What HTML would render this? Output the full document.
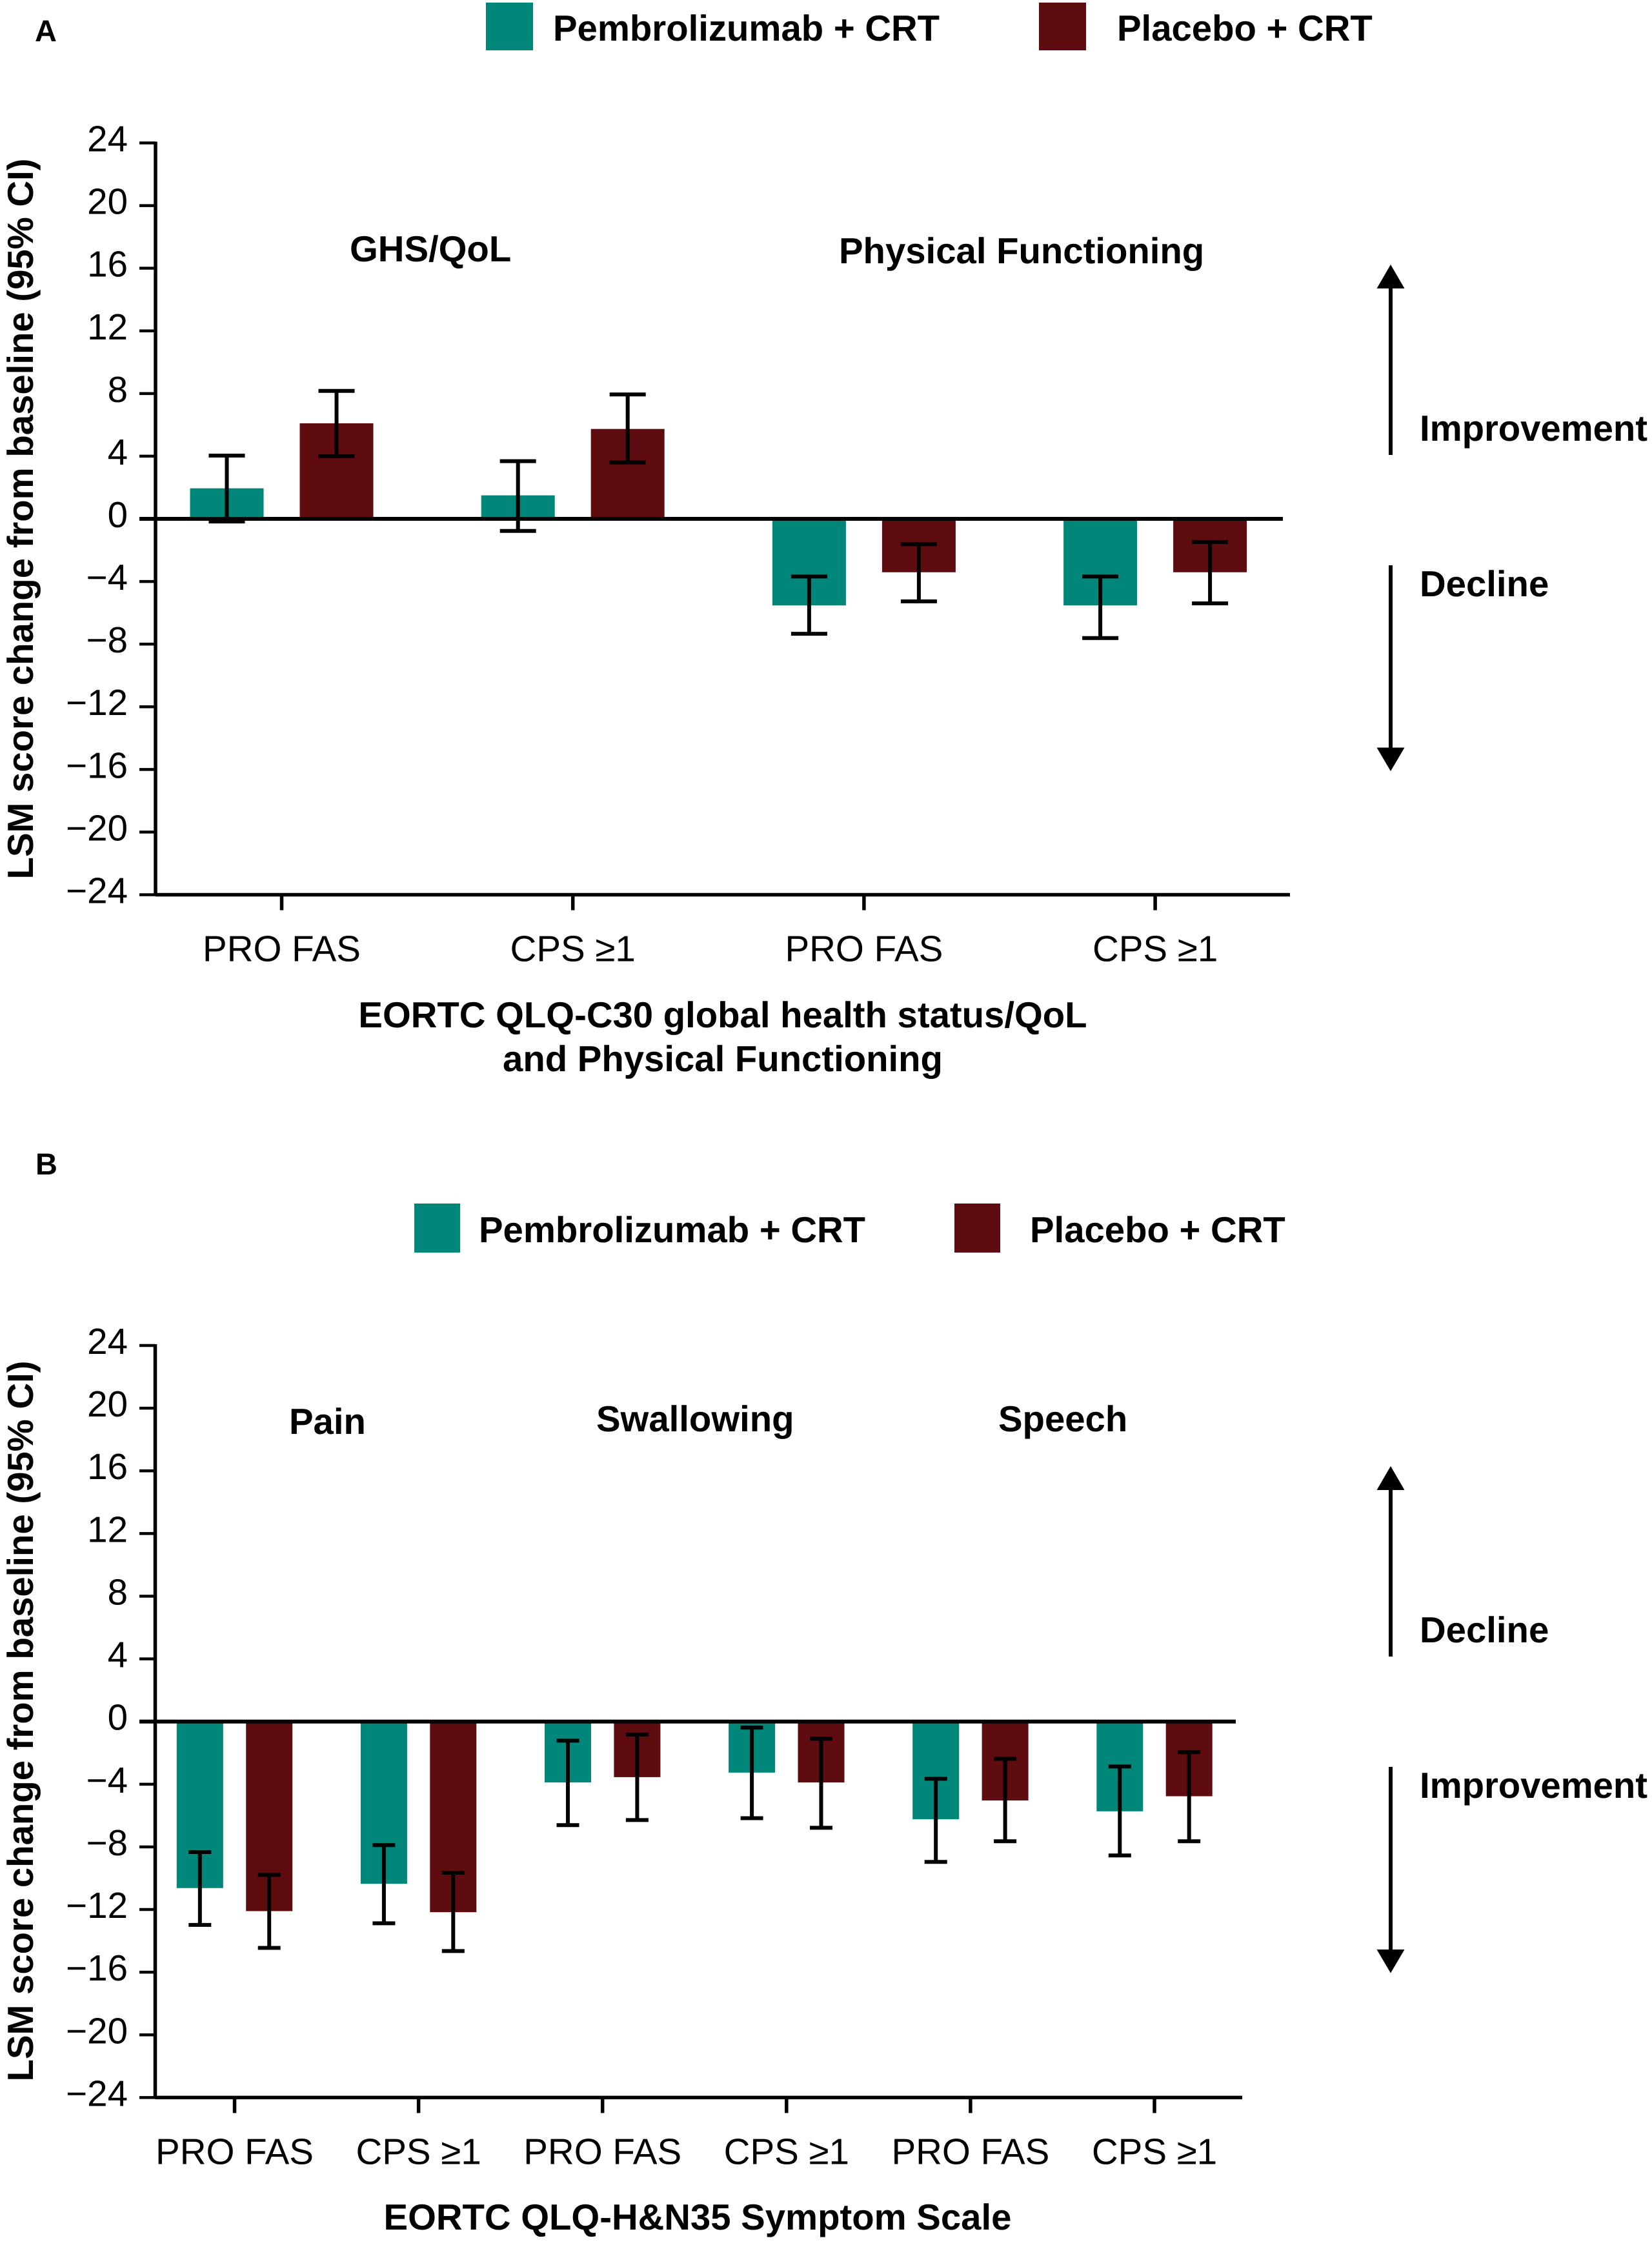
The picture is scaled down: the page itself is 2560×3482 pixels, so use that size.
<!DOCTYPE html>
<html lang="en">
<head>
<meta charset="utf-8">
<title>LSM score change from baseline</title>
<style>
html,body{margin:0;padding:0;background:#fff;}
svg{display:block;}
text{font-family:"Liberation Sans",Arial,sans-serif;fill:#000;text-rendering:geometricPrecision;}
.b{font-weight:700;font-size:56.3px;}
.t{font-size:56.5px;}
</style>
</head>
<body>
<svg id="figure" xmlns="http://www.w3.org/2000/svg" width="2560" height="3482" viewBox="0 0 2560 3482">
  <rect x="0" y="0" width="2560" height="3482" fill="#fff"/>

  <g id="panel-a">
    <text x="54" y="64" font-weight="700" font-size="47">A</text>
    <g>
      <rect x="753" y="4" width="73" height="74" fill="#00877a"/>
      <text class="b" x="857" y="63">Pembrolizumab + CRT</text>
      <rect x="1610" y="4" width="73" height="74" fill="#5e0c0f"/>
      <text class="b" x="1731" y="63">Placebo + CRT</text>
    </g>
    <text class="b" text-anchor="middle" transform="translate(51 804) rotate(-90)">LSM score change from baseline (95% CI)</text>
    <text class="b" x="542" y="405">GHS/QoL</text>
    <text class="b" x="1300" y="408">Physical Functioning</text>
    <text class="b" text-anchor="middle" x="1120" y="1592">EORTC QLQ-C30 global health status/QoL</text>
    <text class="b" text-anchor="middle" x="1120" y="1660">and Physical Functioning</text>
    <g>
      <rect x="2152" y="440" width="6" height="265" fill="#000"/>
      <polygon points="2155,410 2176.5,447 2133.5,447" fill="#000"/>
      <text class="b" x="2200" y="683" textLength="353" lengthAdjust="spacing">Improvement</text>
    </g>
    <g>
      <rect x="2152" y="876" width="6" height="290" fill="#000"/>
      <polygon points="2155,1195 2176.5,1158.5 2133.5,1158.5" fill="#000"/>
      <text class="b" x="2200" y="924">Decline</text>
    </g>
    <g id="plot-a"></g>
  </g>

  <g id="panel-b">
    <text x="55" y="1820" font-weight="700" font-size="47">B</text>
    <g>
      <rect x="642" y="1865" width="71" height="76" fill="#00877a"/>
      <text class="b" x="742" y="1925">Pembrolizumab + CRT</text>
      <rect x="1479" y="1865" width="71" height="76" fill="#5e0c0f"/>
      <text class="b" x="1596" y="1925">Placebo + CRT</text>
    </g>
    <text class="b" text-anchor="middle" transform="translate(51 2667) rotate(-90)">LSM score change from baseline (95% CI)</text>
    <text class="b" x="448" y="2222">Pain</text>
    <text class="b" x="924" y="2218">Swallowing</text>
    <text class="b" x="1547" y="2218">Speech</text>
    <text class="b" text-anchor="middle" x="1081" y="3455">EORTC QLQ-H&amp;N35 Symptom Scale</text>
    <g>
      <rect x="2152" y="2302" width="6" height="265" fill="#000"/>
      <polygon points="2155,2272 2176.5,2309 2133.5,2309" fill="#000"/>
      <text class="b" x="2200" y="2545">Decline</text>
    </g>
    <g>
      <rect x="2152" y="2738" width="6" height="290" fill="#000"/>
      <polygon points="2155,3057.5 2176.5,3021 2133.5,3021" fill="#000"/>
      <text class="b" x="2200" y="2786" textLength="353" lengthAdjust="spacing">Improvement</text>
    </g>
    <g id="plot-b"></g>
  </g>
</svg>

<script>
/* Shared axis data */
var yTicks = [24, 20, 16, 12, 8, 4, 0, -4, -8, -12, -16, -20, -24];

/* Panel A data */
var categoriesA = ["PRO FAS", "CPS \u22651", "PRO FAS", "CPS \u22651"];
var pembroA = [1.95, 1.5, -5.53, -5.53];
var pembroLowA = [-0.17, -0.77, -7.34, -7.61];
var pembroHighA = [4.04, 3.68, -3.68, -3.68];
var placeboA = [6.1, 5.74, -3.41, -3.41];
var placeboLowA = [4.0, 3.6, -5.27, -5.4];
var placeboHighA = [8.17, 7.94, -1.62, -1.48];

/* Panel B data */
var categoriesB = ["PRO FAS", "CPS \u22651", "PRO FAS", "CPS \u22651", "PRO FAS", "CPS \u22651"];
var pembroB = [-10.63, -10.36, -3.89, -3.26, -6.24, -5.73];
var pembroLowB = [-12.98, -12.88, -6.61, -6.17, -8.96, -8.55];
var pembroHighB = [-8.33, -7.89, -1.22, -0.39, -3.65, -2.87];
var placeboB = [-12.1, -12.17, -3.55, -3.89, -5.04, -4.77];
var placeboLowB = [-14.45, -14.65, -6.29, -6.78, -7.64, -7.64];
var placeboHighB = [-9.79, -9.65, -0.83, -1.1, -2.38, -1.96];

var NS = "http://www.w3.org/2000/svg";
var TEAL = "#00877a";
var MAROON = "#5e0c0f";

function line(parent, name, x1, y1, x2, y2, w) {
  var l = document.createElementNS(NS, "line");
  l.setAttribute("x1", x1);
  l.setAttribute("y1", y1);
  l.setAttribute("x2", x2);
  l.setAttribute("y2", y2);
  l.setAttribute("stroke", "#000");
  l.setAttribute("stroke-width", w);
  
  
  parent.appendChild(l);
  return l;
}

function label(parent, name, x, y, anchor, str) {
  var t = document.createElementNS(NS, "text");
  t.setAttribute("class", "t");
  t.setAttribute("x", x);
  t.setAttribute("y", y);
  t.setAttribute("text-anchor", anchor);
  t.textContent = str;
  
  
  parent.appendChild(t);
  return t;
}

function drawSeries(g, name, color, cats, xBand, yScale, offset, barW, capW, vals, lows, highs) {
  for (var i = 0; i < cats.length; i++) {
    var cx = xBand(i) + offset;
    var y0 = yScale(0), yv = yScale(vals[i]);
    var r = document.createElementNS(NS, "rect");
    r.setAttribute("x", cx - barW / 2);
    r.setAttribute("y", Math.min(y0, yv));
    r.setAttribute("width", barW);
    r.setAttribute("height", Math.abs(y0 - yv));
    r.setAttribute("fill", color);
    
    
    g.appendChild(r);
  }
  for (var j = 0; j < cats.length; j++) {
    var ex = xBand(j) + offset;
    line(g, 'error-stem-' + name, ex, yScale(highs[j]), ex, yScale(lows[j]), 6);
    line(g, 'error-cap-high-' + name, ex - capW / 2, yScale(highs[j]), ex + capW / 2, yScale(highs[j]), 6);
    line(g, 'error-cap-low-' + name, ex - capW / 2, yScale(lows[j]), ex + capW / 2, yScale(lows[j]), 6);
  }
}

function drawPlot(g, cfg, cats, pVals, pLow, pHigh, cVals, cLow, cHigh) {
  function yScale(v) { return cfg.zeroY - v * cfg.unit; }
  function xBand(i) { return cfg.x0 + i * cfg.step; }

  drawSeries(g, 'pembrolizumab', TEAL, cats, xBand, yScale, -cfg.offset, cfg.barW, cfg.capW, pVals, pLow, pHigh);
  drawSeries(g, 'placebo', MAROON, cats, xBand, yScale, cfg.offset, cfg.barW, cfg.capW, cVals, cLow, cHigh);

  line(g, 'y-axis-line', cfg.axisX, yScale(24) - 2, cfg.axisX, yScale(-24) + 2, 5.5);
  line(g, 'zero-line', cfg.tickX, yScale(0), cfg.zeroEnd, yScale(0), 6);
  line(g, 'x-axis-line', cfg.axisX, yScale(-24), cfg.axisEnd, yScale(-24), 5.5);

  yTicks.forEach(function (v) {
    line(g, 'y-tick', cfg.tickX, yScale(v), cfg.axisX, yScale(v), 4.5);
    label(g, 'y-tick-label', 198, yScale(v) + 13, 'end', (v < 0 ? '\u2212' + (-v) : String(v)));
  });

  cats.forEach(function (c, i) {
    line(g, 'x-tick', xBand(i), yScale(-24), xBand(i), yScale(-24) + 24, 5.5);
    label(g, 'x-tick-label', xBand(i), yScale(-24) + 103, 'middle', c);
  });
}

drawPlot(document.getElementById('plot-a'),
  {zeroY: 804, unit: 24.27, x0: 436.5, step: 451.2, offset: 85, barW: 114, capW: 56, axisX: 241, tickX: 216, zeroEnd: 1988, axisEnd: 1999},
  categoriesA, pembroA, pembroLowA, pembroHighA, placeboA, placeboLowA, placeboHighA);

drawPlot(document.getElementById('plot-b'),
  {zeroY: 2667.7, unit: 24.28, x0: 363.5, step: 285.1, offset: 53.7, barW: 72, capW: 35, axisX: 240.5, tickX: 216, zeroEnd: 1915, axisEnd: 1925},
  categoriesB, pembroB, pembroLowB, pembroHighB, placeboB, placeboLowB, placeboHighB);
</script>
</body>
</html>
